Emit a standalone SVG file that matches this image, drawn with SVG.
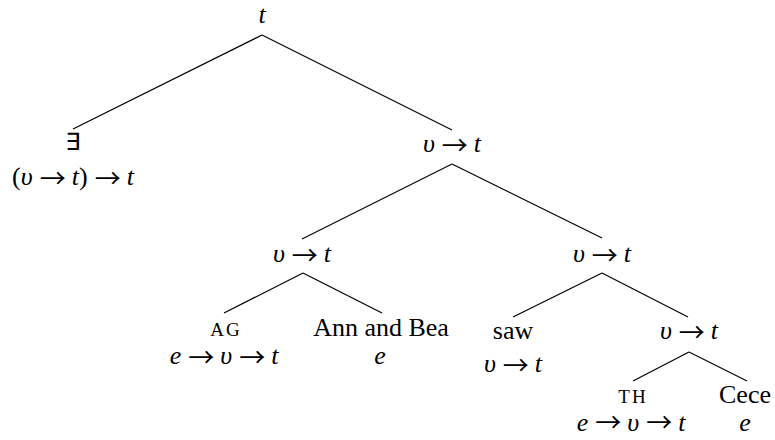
<svg xmlns="http://www.w3.org/2000/svg" width="775" height="440" viewBox="0 0 775 440">
<style>
text{font-family:"Liberation Serif","Times New Roman",serif;font-size:26px;text-anchor:middle;fill:#000}
.i{font-style:italic}
.ar{font-family:"Noto Sans CJK JP",sans-serif;font-style:normal}
.sc{font-size:19px;letter-spacing:2px}
.ex{font-family:"DejaVu Sans",sans-serif;font-size:24px}
line{stroke:#000;stroke-width:1.2}
</style>
<rect width="775" height="440" fill="#fff"/>
<g id="connectors">
<line x1="262" y1="35" x2="73" y2="129"/>
<line x1="262" y1="35" x2="452" y2="130"/>
<line x1="452" y1="164" x2="302" y2="239"/>
<line x1="452" y1="164" x2="602" y2="238"/>
<line x1="303" y1="273" x2="224" y2="313"/>
<line x1="303" y1="273" x2="382" y2="313"/>
<line x1="602" y1="273" x2="513" y2="317"/>
<line x1="602" y1="273" x2="688" y2="317"/>
<line x1="689" y1="352" x2="633" y2="381"/>
<line x1="689" y1="352" x2="747" y2="381"/>
</g>
<g id="root"><text x="262" y="23" class="i">t</text></g>
<g id="exists"><text x="73" y="150" class="ex">∃</text><text x="73" y="185">(<tspan class="i">υ</tspan><tspan class="ar" dx="7" dy="3">→</tspan><tspan class="i" dx="6" dy="-3">t</tspan>)<tspan class="ar" dx="7" dy="3">→</tspan><tspan class="i" dx="6" dy="-3">t</tspan></text></g>
<g id="n1"><text x="452" y="152"><tspan class="i">υ</tspan><tspan class="ar" dx="7" dy="3">→</tspan><tspan class="i" dx="6" dy="-3">t</tspan></text></g>
<g id="n2l"><text x="302" y="262"><tspan class="i">υ</tspan><tspan class="ar" dx="7" dy="3">→</tspan><tspan class="i" dx="6" dy="-3">t</tspan></text></g>
<g id="n2r"><text x="602" y="262"><tspan class="i">υ</tspan><tspan class="ar" dx="7" dy="3">→</tspan><tspan class="i" dx="6" dy="-3">t</tspan></text></g>
<g id="ag"><text x="226" y="336" class="sc">AG</text><text x="224" y="364"><tspan class="i">e</tspan><tspan class="ar" dx="7" dy="3">→</tspan><tspan class="i" dx="6" dy="-3">υ</tspan><tspan class="ar" dx="7" dy="3">→</tspan><tspan class="i" dx="6" dy="-3">t</tspan></text></g>
<g id="annbea"><text x="381" y="336">Ann and Bea</text><text x="380" y="364" class="i">e</text></g>
<g id="saw"><text x="513" y="339">saw</text><text x="513" y="372"><tspan class="i">υ</tspan><tspan class="ar" dx="7" dy="3">→</tspan><tspan class="i" dx="6" dy="-3">t</tspan></text></g>
<g id="n3"><text x="689" y="339"><tspan class="i">υ</tspan><tspan class="ar" dx="7" dy="3">→</tspan><tspan class="i" dx="6" dy="-3">t</tspan></text></g>
<g id="th"><text x="633" y="403" class="sc">TH</text><text x="631" y="431"><tspan class="i">e</tspan><tspan class="ar" dx="7" dy="1">→</tspan><tspan class="i" dx="6" dy="-1">υ</tspan><tspan class="ar" dx="7" dy="1">→</tspan><tspan class="i" dx="6" dy="-1">t</tspan></text></g>
<g id="cece"><text x="745" y="403">Cece</text><text x="745" y="431" class="i">e</text></g>
</svg>
